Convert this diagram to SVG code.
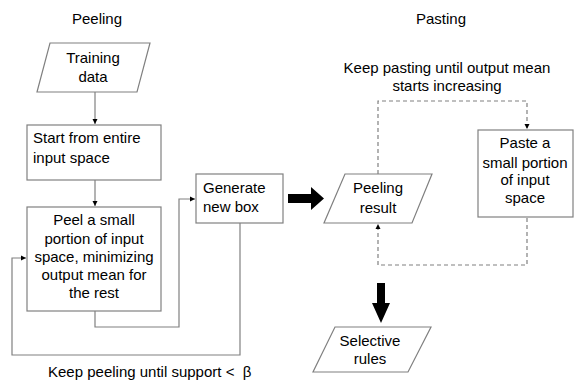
<svg xmlns="http://www.w3.org/2000/svg" width="574" height="381" viewBox="0 0 574 381">
<style>
.bx{fill:#fff;stroke:#808080;stroke-width:1.2}
.ln{fill:none;stroke:#808080;stroke-width:1.2}
.ds{fill:none;stroke:#808080;stroke-width:1.2;stroke-dasharray:4,3}
text{font-family:"Liberation Sans",Arial,sans-serif;font-size:15px;fill:#000}
.c{text-anchor:middle}
</style>
<defs>
<marker id="ah" markerWidth="6" markerHeight="6" refX="5" refY="3" orient="auto" markerUnits="userSpaceOnUse">
<path d="M0,0.5 L5,3 L0,5.5 Z" fill="#000"/>
</marker>
</defs>
<text class="c" x="97" y="24">Peeling</text>
<text class="c" x="441" y="24">Pasting</text>
<text class="c" x="447" y="73">Keep pasting until output mean</text>
<text class="c" x="447" y="91">starts increasing</text>
<text x="48" y="377" style="white-space:pre">Keep peeling until support &lt;  β</text>
<g id="connectors">
<path class="ln" d="M95,92 V124" marker-end="url(#ah)"/>
<path class="ln" d="M95,180 V206" marker-end="url(#ah)"/>
<path class="ln" d="M95,311 V327 H179 V199 H195" marker-end="url(#ah)"/>
<path class="ln" d="M240,223 V355 H12 V258 H26" marker-end="url(#ah)"/>
<path class="ds" d="M378,174 V101 H527 V129" marker-end="url(#ah)"/>
<path class="ds" d="M527,218 V265 H378 V224" marker-end="url(#ah)"/>
<path d="M288,194 H311 V187 L324,198.5 L311,210 V203 H288 Z" fill="#000"/>
<path d="M377,283 V303 H372 L381,323 L390,303 H385 V283 Z" fill="#000"/>
</g>
<g id="training">
<polygon class="bx" points="50,43 150,43 137,92 37,92"/>
<text class="c" x="93" y="63">Training</text>
<text class="c" x="93" y="82">data</text>
</g>
<g id="start">
<rect class="bx" x="27" y="125" width="134" height="55"/>
<text x="33" y="143">Start from entire</text>
<text x="33" y="163">input space</text>
</g>
<g id="peel">
<rect class="bx" x="27" y="207" width="134" height="104"/>
<text class="c" x="94" y="225">Peel a small</text>
<text class="c" x="94" y="244">portion of input</text>
<text class="c" x="94" y="262">space, minimizing</text>
<text class="c" x="94" y="280">output mean for</text>
<text class="c" x="94" y="298">the rest</text>
</g>
<g id="generate">
<rect class="bx" x="196" y="174" width="87" height="49"/>
<text x="203" y="193">Generate</text>
<text x="203" y="212">new box</text>
</g>
<g id="peelingresult">
<polygon class="bx" points="345,174 432,174 412,223 324,223"/>
<text class="c" x="378" y="193">Peeling</text>
<text class="c" x="378" y="213">result</text>
</g>
<g id="paste">
<rect class="bx" x="478" y="130" width="95" height="87"/>
<text class="c" x="525" y="148">Paste a</text>
<text class="c" x="525" y="168">small portion</text>
<text class="c" x="525" y="185">of input</text>
<text class="c" x="525" y="203">space</text>
</g>
<g id="selective">
<polygon class="bx" points="335,327 431,327 408,372 313,372"/>
<text class="c" x="370" y="346">Selective</text>
<text class="c" x="370" y="364">rules</text>
</g>
</svg>
